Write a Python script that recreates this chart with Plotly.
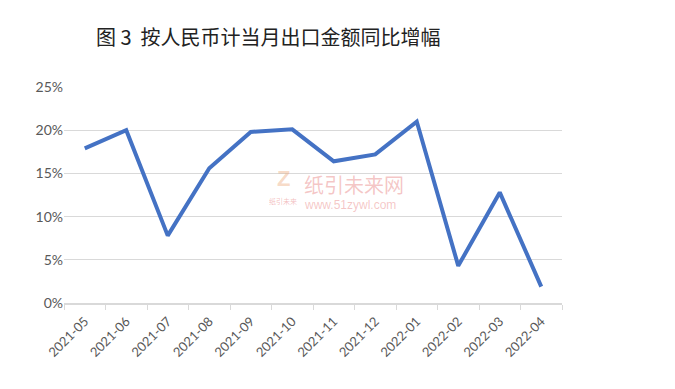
import plotly.graph_objects as go

months = ["2021-05", "2021-06", "2021-07", "2021-08", "2021-09", "2021-10",
          "2021-11", "2021-12", "2022-01", "2022-02", "2022-03", "2022-04"]
growth = [17.9, 20.0, 7.8, 15.6, 19.8, 20.1, 16.4, 17.2, 21.0, 4.3, 12.8, 1.9]
y_ticks = [0, 5, 10, 15, 20, 25]
y_tick_labels = ["0%", "5%", "10%", "15%", "20%", "25%"]
title_text = "图 3  按人民币计当月出口金额同比增幅"

fig = go.Figure()
fig.add_trace(go.Scatter(
    x=months, y=growth, mode="lines",
    line=dict(color="#4472C4", width=4),
    hoverinfo="x+y",
))

fig.update_layout(
    width=675, height=389,
    margin=dict(l=56, r=121, t=79, b=94, autoexpand=False),
    paper_bgcolor="white", plot_bgcolor="white",
    showlegend=False,
    title=dict(text=title_text, x=88/675, xanchor="left", y=1 - 30/389, yanchor="middle",
               font=dict(family="Noto Sans CJK SC", size=20, color="#222222")),
    font=dict(family="Lato, Noto Sans CJK SC", color="#595959", size=12),
)
fig.update_xaxes(
    type="category", tickangle=-45, range=[-0.5, len(months) - 0.5], automargin=False,
    showline=True, linecolor="#d9d9d9", linewidth=1.5,
    ticks="outside", tickson="boundaries", ticklen=5, tickcolor="#d9d9d9",
    ticklabelstandoff=4,
    showgrid=False,
    tickfont=dict(family="Lato", size=13, color="#595959"),
)
fig.update_yaxes(
    range=[0, 25], tickmode="array", tickvals=y_ticks, ticktext=y_tick_labels, automargin=False,
    showgrid=True, gridcolor="#d9d9d9", gridwidth=1.3,
    zeroline=False, showline=False, ticks="",
    tickfont=dict(family="Lato", size=14, color="#595959"),
)

# watermark
fig.add_annotation(x=0.582, y=0.55, xref="paper", yref="paper", text="纸引未来网",
                   showarrow=False, font=dict(family="Noto Sans CJK SC", size=20, color="rgba(225,90,90,0.35)"))
fig.add_annotation(x=0.575, y=0.455, xref="paper", yref="paper", text="www.51zywl.com",
                   showarrow=False, font=dict(family="Liberation Sans", size=12, color="rgba(225,90,90,0.35)"))
fig.add_annotation(x=0.44, y=0.575, xref="paper", yref="paper", text="<b>Z</b>",
                   showarrow=False, font=dict(family="Liberation Sans", size=22, color="rgba(235,160,110,0.4)"))
fig.add_annotation(x=0.44, y=0.47, xref="paper", yref="paper", text="纸引未来",
                   showarrow=False, font=dict(family="Noto Sans CJK SC", size=7, color="rgba(225,90,90,0.4)"))

fig.write_html("out.html")
